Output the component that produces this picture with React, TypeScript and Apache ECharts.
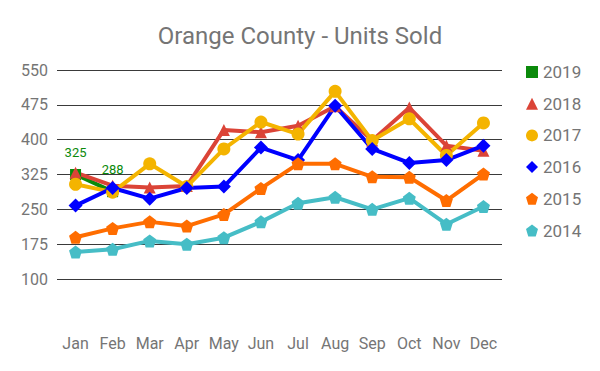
import React, { useEffect, useRef } from "react";
import * as echarts from "echarts";

const months = ["Jan", "Feb", "Mar", "Apr", "May", "Jun", "Jul", "Aug", "Sep", "Oct", "Nov", "Dec"];
const s2019 = [325, 288, null, null, null, null, null, null, null, null, null, null];
const s2018 = [329, 301, 297, 300, 421, 416, 430, 472, 398, 469, 387, 376];
const s2017 = [304, 287, 348, 299, 380, 438, 412, 504, 398, 445, 366, 436];
const s2016 = [258, 296, 273, 296, 299, 383, 356, 473, 380, 350, 356, 387];
const s2015 = [190, 209, 223, 214, 239, 295, 348, 348, 320, 319, 269, 326];
const s2014 = [158, 164, 182, 175, 189, 223, 263, 276, 250, 274, 218, 256];
const yearNames = ["2019", "2018", "2017", "2016", "2015", "2014"];

const pentagon = "path://M50,0 L100,38 L81,100 L19,100 L0,38 Z";

export default function App() {
  const ref = useRef<HTMLDivElement>(null);
  useEffect(() => {
    if (!ref.current) return;
    const chart = echarts.init(ref.current, undefined, { renderer: "svg" });
    const mk = (name: string, data: (number | null)[], color: string, symbol: string, size: number, label = false) => ({
      name,
      type: "line",
      data,
      symbol,
      symbolSize: size,
      showAllSymbol: true,
      connectNulls: false,
      lineStyle: { width: 4, color },
      itemStyle: { color },
      label: label
        ? { show: true, position: "top", distance: 10, color: "#0b8a0b", fontSize: 13, fontFamily: "Roboto" }
        : { show: false },
      emphasis: { disabled: true },
    });
    chart.setOption({
      animation: false,
      textStyle: { fontFamily: "Roboto" },
      title: {
        text: "Orange County - Units Sold",
        left: "center",
        top: 19,
        textStyle: { fontFamily: "Roboto", fontSize: 24, fontWeight: "normal", color: "#757575" },
      },
      legend: {
        orient: "vertical",
        left: 521,
        top: 58,
        itemWidth: 12,
        itemHeight: 12,
        itemGap: 13.7,
        data: yearNames.map((n, i) => ({
          name: n,
          icon: ["rect", "triangle", "circle", "diamond", pentagon, pentagon][i],
        })),
        textStyle: { fontFamily: "Roboto", fontSize: 17, color: "#757575", lineHeight: 18 },
      },
      grid: { left: 57, right: 98, top: 70, bottom: 92, containLabel: false },
      xAxis: {
        type: "category",
        data: months,
        boundaryGap: true,
        axisLine: { show: false },
        axisTick: { show: false },
        axisLabel: { interval: 0, fontFamily: "Roboto", fontSize: 16, color: "#757575", margin: 56 },
      },
      yAxis: {
        type: "value",
        min: 100,
        max: 550,
        interval: 75,
        axisLine: { show: false },
        axisTick: { show: false },
        axisLabel: { fontFamily: "Roboto", fontSize: 16, color: "#757575", margin: 9 },
        splitLine: { lineStyle: { color: "#3a3a3a", width: 1 } },
      },
      series: [
        mk("2019", s2019, "#0b8a0b", "rect", 11, true),
        mk("2018", s2018, "#db4437", "triangle", 12),
        mk("2017", s2017, "#f4b400", "circle", 13),
        mk("2016", s2016, "#0000ff", "diamond", 14),
        mk("2015", s2015, "#ff6d00", pentagon, 13),
        mk("2014", s2014, "#46bdc6", pentagon, 13),
      ],
    });
    return () => chart.dispose();
  }, []);
  return (
    <div
      ref={ref}
      style={{ position: "fixed", left: 0, top: 0, width: 600, height: 371, background: "#fff" }}
    />
  );
}
